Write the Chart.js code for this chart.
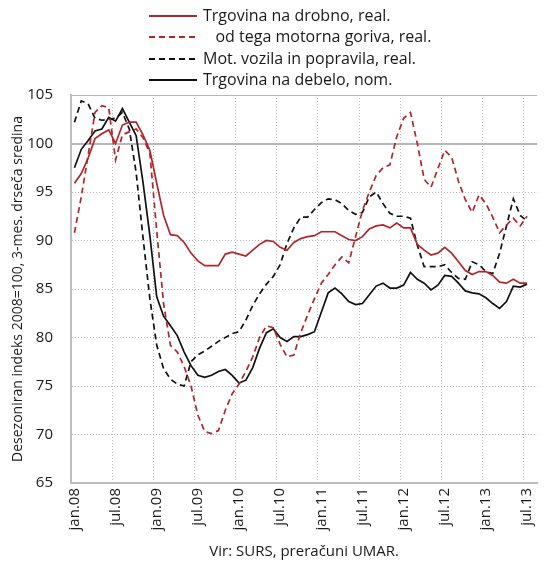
<!DOCTYPE html>
<html>
<head>
<meta charset="utf-8">
<script src="https://cdn.jsdelivr.net/npm/chart.js@4.4.0/dist/chart.umd.min.js"></script>
<style>
  html, body { margin: 0; padding: 0; background: #fff; }
  #wrap { width: 557px; height: 565px; position: relative; }
</style>
</head>
<body>
<div id="wrap"><canvas id="chart"></canvas></div>
<script>
// === Data: monthly, jan.08 .. jul.13 (one empty category after jul.13) ===
const years = ["08", "09", "10", "11", "12", "13"];
const monthNames = ["jan", "feb", "mar", "apr", "maj", "jun", "jul", "avg", "sep", "okt", "nov", "dec"];
const months = [];
years.forEach(y => monthNames.forEach(m => months.push(m + "." + y)));
months.length = 68;

const tickLabels = ["jan.08", "jul.08", "jan.09", "jul.09", "jan.10", "jul.10",
    "jan.11", "jul.11", "jan.12", "jul.12", "jan.13", "jul.13"];

const retailReal = [95.9, 96.9, 98.5, 100.5, 101.0, 101.4, 100.0, 101.9, 102.2, 102.2, 100.9, 99.3,
    95.9, 92.6, 90.6, 90.5, 89.8, 88.7, 87.9, 87.4, 87.4, 87.4, 88.6, 88.8,
    88.6, 88.4, 89.0, 89.6, 90.0, 89.9, 89.3, 89.0, 89.8, 90.2, 90.4, 90.5,
    90.9, 90.9, 90.9, 90.5, 90.1, 90.0, 90.4, 91.2, 91.5, 91.6, 91.3, 91.8,
    91.3, 91.3, 89.6, 89.0, 88.5, 88.7, 89.3, 88.7, 87.8, 86.9, 86.5, 86.8,
    86.8, 86.4, 85.7, 85.6, 86.0, 85.6, 85.6];

const fuelsReal = [90.8, 94.5, 98.8, 103.2, 103.9, 103.7, 98.3, 100.9, 101.2, 101.5, 100.6, 99.0,
    91.0, 83.5, 79.2, 78.5, 77.0, 75.0, 72.0, 70.3, 70.1, 70.4, 72.5, 74.2,
    75.2, 76.5, 78.0, 80.0, 81.2, 81.0, 79.3, 78.0, 78.2, 80.5, 82.3, 84.0,
    85.6, 86.5, 87.5, 88.3, 87.7, 90.4, 93.1, 95.0, 96.7, 97.5, 97.8, 100.7,
    102.6, 103.2, 100.0, 96.3, 95.5, 97.4, 99.3, 98.6, 96.1, 94.2, 92.9, 94.7,
    93.8, 92.4, 90.8, 91.6, 92.3, 91.5, 92.5];

const vehiclesReal = [102.2, 104.4, 104.1, 102.6, 102.4, 102.5, 102.6, 103.2, 101.5, 97.0, 90.3, 84.0,
    79.2, 76.8, 75.7, 75.2, 75.0, 77.5, 78.2, 78.6, 79.1, 79.6, 80.0, 80.4,
    80.6, 81.8, 83.3, 84.5, 85.5, 86.3, 87.5, 89.7, 91.3, 92.4, 92.4, 93.2,
    93.9, 94.3, 94.2, 93.8, 93.1, 92.7, 92.9, 94.5, 95.0, 93.8, 92.8, 92.5,
    92.5, 92.3, 89.5, 87.3, 87.3, 87.3, 87.5, 86.7, 86.1, 86.0, 87.8, 87.5,
    86.8, 86.6, 88.7, 91.5, 94.3, 92.6, 92.0];

const wholesaleNom = [97.5, 99.4, 100.3, 101.3, 101.5, 102.7, 102.3, 103.6, 102.2, 100.8, 96.0, 90.5,
    84.2, 82.2, 81.2, 80.2, 78.5, 77.1, 76.1, 75.9, 76.1, 76.5, 76.7, 76.1,
    75.3, 75.6, 76.9, 78.9, 80.5, 80.9, 80.0, 79.6, 80.1, 80.1, 80.3, 80.6,
    82.6, 84.6, 85.1, 84.5, 83.7, 83.4, 83.5, 84.4, 85.3, 85.6, 85.1, 85.1,
    85.4, 86.7, 86.0, 85.6, 84.9, 85.4, 86.4, 86.3, 85.6, 84.8, 84.6, 84.5,
    84.1, 83.5, 83.0, 83.7, 85.3, 85.2, 85.5];

// === Styling ===
const FONT = "'Open Sans'";
const chartProps = {
    red: "#b2262b",
    black: "#111111",
    gridColor: "#b8b8b8",
    axisColor: "#bdbdbd",
    textColor: "#1a1a1a",
    lineWidth: 1.7
};

const stackedLegend = {
    id: "stackedLegend",
    afterDraw(chart, args, opts) {
        const ctx = chart.ctx;
        ctx.save();
        ctx.font = opts.fontSize + "px " + FONT;
        ctx.textBaseline = "middle";
        ctx.fillStyle = chartProps.textColor;
        chart.data.datasets.forEach((ds, i) => {
            const y = Math.round(opts.top + i * opts.rowHeight);
            ctx.beginPath();
            ctx.strokeStyle = ds.borderColor;
            ctx.lineWidth = 1.8;
            ctx.setLineDash(ds.borderDash || []);
            ctx.moveTo(opts.x, y);
            ctx.lineTo(opts.x + opts.lineLength, y);
            ctx.stroke();
            ctx.setLineDash([]);
            ctx.fillText(ds.label, opts.x + opts.lineLength + opts.gap, y);
        });
        ctx.restore();
    }
};

function lineSet(label, data, color, dash) {
    return {
        label: label,
        data: data,
        borderColor: color,
        backgroundColor: color,
        borderWidth: chartProps.lineWidth,
        borderDash: dash,
        pointRadius: 0,
        tension: 0,
        fill: false
    };
}

Chart.defaults.font.family = FONT;
Chart.defaults.color = chartProps.textColor;

new Chart(document.getElementById("chart"), {
    type: "line",
    data: {
        labels: months,
        datasets: [
            lineSet("Trgovina na drobno, real.", retailReal, chartProps.red, []),
            lineSet("   od tega motorna goriva, real.", fuelsReal, chartProps.red, [6, 4]),
            lineSet("Mot. vozila in popravila, real.", vehiclesReal, chartProps.black, [6, 4]),
            lineSet("Trgovina na debelo, nom.", wholesaleNom, chartProps.black, [])
        ]
    },
    options: {
        responsive: true,
        maintainAspectRatio: false,
        animation: false,
        layout: { padding: { top: 95, right: 13, left: 4, bottom: 0 } },
        scales: {
            x: {
                offset: true,
                afterFit: scale => { scale.height = 82; },
                ticks: {
                    autoSkip: false,
                    minRotation: 90,
                    maxRotation: 90,
                    padding: 5,
                    font: { size: 15 },
                    callback: (value, index) => index % 6 === 0 ? tickLabels[index / 6] : ""
                },
                grid: {
                    offset: true,
                    drawTicks: false,
                    lineWidth: 1,
                    color: ctx => (ctx.index > 0 && ctx.index % 6 === 0) ? chartProps.gridColor : "transparent"
                },
                border: { color: chartProps.axisColor, width: 2, dash: [1, 2] },
                title: {
                    display: true,
                    text: "Vir: SURS, preračuni UMAR.",
                    font: { size: 15 },
                    padding: { top: 4, bottom: 4 }
                }
            },
            y: {
                min: 65,
                max: 105,
                afterFit: scale => { scale.width = 67; },
                ticks: { stepSize: 5, padding: 18, font: { size: 15 } },
                grid: {
                    drawTicks: false,
                    color: ctx => ctx.tick && ctx.tick.value === 65 ? "transparent" : chartProps.gridColor,
                    lineWidth: ctx => ctx.tick && ctx.tick.value === 100 ? 2 : 1
                },
                border: {
                    color: chartProps.axisColor,
                    width: 2,
                    dash: ctx => ctx.tick && (ctx.tick.value === 100 || ctx.tick.value === 105) ? [] : [1, 2]
                },
                title: {
                    display: true,
                    text: "Desezoniran indeks 2008=100, 3-mes. drseča sredina",
                    font: { size: 14 },
                    padding: { top: 6, bottom: 4 }
                }
            }
        },
        plugins: {
            legend: { display: false },
            tooltip: { enabled: false },
            stackedLegend: { x: 149, top: 15.5, rowHeight: 21.6, lineLength: 48, gap: 6, fontSize: 16 }
        }
    },
    plugins: [stackedLegend]
});
</script>
</body>
</html>
